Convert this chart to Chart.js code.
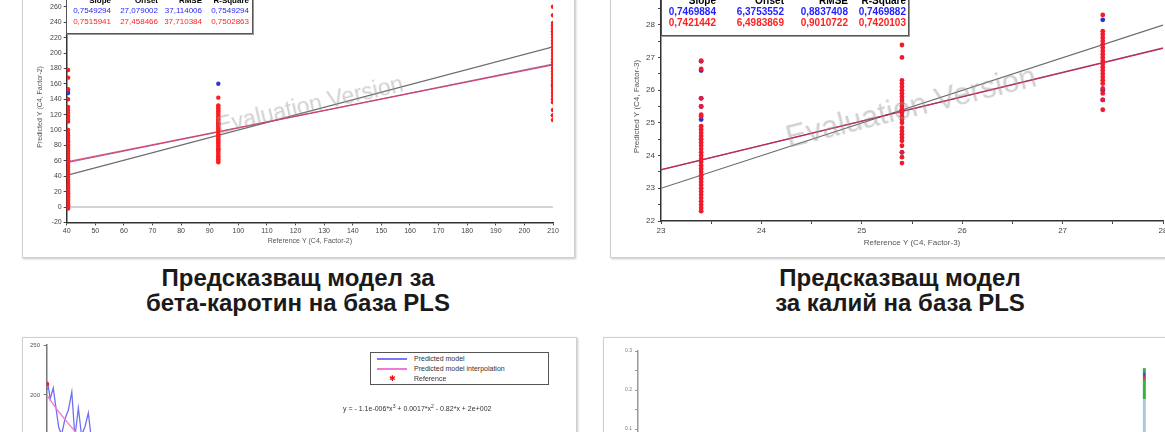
<!DOCTYPE html>
<html><head><meta charset="utf-8">
<script src="https://cdn.jsdelivr.net/npm/chart.js@4.4.1/dist/chart.umd.min.js"></script>
<style>
html,body{margin:0;padding:0;background:#fff;}
body{width:1165px;height:432px;overflow:hidden;position:relative;font-family:'Liberation Sans',Arial,sans-serif;}
.panel{position:absolute;border:1px solid #cfcfcf;box-shadow:1px 1px 2px rgba(0,0,0,0.22);background:#fff;}
canvas{position:absolute;}
.cap{position:absolute;width:440px;text-align:center;font-weight:bold;font-size:24px;line-height:25px;color:#1a1a1a;}
.wm{position:absolute;white-space:nowrap;color:rgba(150,150,150,0.45);transform-origin:center center;}
.stats{position:absolute;background:#fff;border:1px solid #555;box-shadow:1px 1px 0 #999;}
.stats table{position:absolute;left:0;border-collapse:collapse;table-layout:fixed;}
.stats td{padding:0;text-align:right;white-space:nowrap;overflow:visible;}
.leg{position:absolute;background:#fff;border:1px solid #555;font-size:7px;color:#333;}
.leg .row{position:absolute;left:0;height:10px;line-height:10px;width:100%;}
.leg .smp{position:absolute;left:6px;width:30px;top:4px;height:2px;}
.leg .txt{position:absolute;left:43px;top:0;}
.eq{position:absolute;font-size:7px;color:#333;white-space:nowrap;}
.eq sup{font-size:5px;}
</style>
</head><body>

<div class="panel" style="left:22px;top:-10px;width:551px;height:266px;"></div>
<div class="panel" style="left:610px;top:-10px;width:600px;height:266px;"></div>
<div class="panel" style="left:22px;top:337px;width:553px;height:200px;"></div>
<div class="panel" style="left:603px;top:337px;width:600px;height:200px;"></div>

<canvas id="c1" width="554" height="277" style="left:22px;top:-20px;width:554px;height:277px;"></canvas>
<canvas id="c2" width="600" height="277" style="left:610px;top:-20px;width:600px;height:277px;"></canvas>
<canvas id="c3" width="553" height="300" style="left:22px;top:337px;width:553px;height:300px;"></canvas>
<canvas id="c4" width="600" height="300" style="left:603px;top:337px;width:600px;height:300px;"></canvas>

<div class="wm" id="wm1" style="left:310px;top:105px;font-size:23px;transform:translate(-50%,-50%) rotate(-13deg);"></div>
<div class="wm" id="wm2" style="left:911px;top:107px;font-size:31px;transform:translate(-50%,-50%) rotate(-14deg);"></div>

<div class="stats" id="st1" style="left:66px;top:-8px;width:185px;height:40px;"></div>
<div class="stats" id="st2" style="left:661px;top:-8px;width:246px;height:42px;"></div>

<div class="leg" id="leg3" style="left:370px;top:352px;width:177px;height:31px;"></div>
<div class="eq" id="eq3" style="left:343px;top:403px;"></div>

<div class="cap" id="cap1" style="left:78px;top:265px;"></div>
<div class="cap" id="cap2" style="left:680px;top:265px;"></div>

<script>
// ---------- texts ----------
const caption1 = ['Предсказващ модел за', 'бета-каротин на база PLS'];
const caption2 = ['Предсказващ модел', 'за калий на база PLS'];
const watermarkText = 'Evaluation Version';
const statHeaders = ['Slope', 'Offset', 'RMSE', 'R-Square'];

// ---------- panel 1: beta-carotene (Factor-2) ----------
const bcXTitle = 'Reference Y (C4, Factor-2)';
const bcYTitle = 'Predicted Y (C4, Factor-2)';
const bcStatsBlue = ['0,7549294', '27,079002', '37,114006', '0,7549294'];
const bcStatsRed  = ['0,7515941', '27,458466', '37,710384', '0,7502863'];
const bcRefLevels = [40.5, 93, 210];
const bcRed1 = [-2,0,2,4,6,8,10,12,14,16,18,20,22,24,26,28,30,33,36,39,42,45,48,51,54,57,60,63,66,69,72,75,78,81,84,87,90,93,96,100,111,114,118,122,126,130,140,153,168,178];
const bcRed2 = [58,60,62,64,66,68,70,72,74,76,78,80,82,84,86,88,90,92,94,96,98,100,102,104,106,108,110,112,114,116,118,120,122,124,126,128,130,132,142];
const bcRed3 = [113,119,126,136,140,144,148,152,156,160,164,168,172,176,180,184,188,192,196,200,204,208,212,216,220,224,228,232,236,239,249,260];
const bcBlue1 = [2,18,60,85,148,152];
const bcBlue2 = [75,108,160];
const bcBlue3 = [119,158,228];
const bcLineX = [40, 210];
const bcIdeal = [41, 208];
const bcBlueFit = [57.5, 185.5];
const bcRedFit = [58.5, 184.5];
const bcZero = [0, 0];

// ---------- panel 2: potassium (Factor-3) ----------
const kXTitle = 'Reference Y (C4, Factor-3)';
const kYTitle = 'Predicted Y (C4, Factor-3)';
const kStatsBlue = ['0,7469884', '6,3753552', '0,8837408', '0,7469882'];
const kStatsRed  = ['0,7421442', '6,4983869', '0,9010722', '0,7420103'];
const kRefLevels = [23.4, 25.4, 27.4];
const kRed1 = [22.3,22.4,22.5,22.6,22.7,22.8,22.9,23.0,23.1,23.2,23.3,23.4,23.5,23.6,23.7,23.8,23.9,24.0,24.1,24.2,24.3,24.4,24.5,24.6,24.7,24.8,24.9,25.2,25.25,25.5,25.75,26.65,26.9];
const kRed2 = [23.77,23.95,24.1,24.3,24.45,24.55,24.65,24.75,24.85,25.0,25.1,25.2,25.3,25.4,25.5,25.6,25.7,25.8,25.9,26.0,26.1,26.2,26.3,27.0,27.38];
const kRed3 = [25.4,25.7,25.9,26.05,26.2,26.3,26.4,26.5,26.6,26.7,26.8,26.9,27.0,27.1,27.2,27.3,27.4,27.5,27.6,27.7,27.8,28.3];
const kBlue1 = [26.88,26.6,25.75,25.5,25.1];
const kBlue2 = [24.1,25.4];
const kBlue3 = [28.15,25.7,26.0];
const kLineX = [23, 28];
const kIdeal = [23.0, 27.99];
const kBlueFit = [23.56, 27.29];
const kRedFit = [23.57, 27.28];

// ---------- panel 3: spectrum model ----------
const spLegend = ['Predicted model', 'Predicted model interpolation', 'Reference'];
const spEquation = 'y = - 1.1e-006*x<sup>3</sup> + 0.0017*x<sup>2</sup> - 0.82*x + 2e+002';
const spModelX = [0, 3, 6, 11.5, 16, 21, 26, 32, 38, 44, 49.5, 55.5, 61, 67, 73, 79.5];
const spModelY = [205, 208, 196, 207, 188, 168, 160, 176, 185, 203, 158, 187, 160, 168, 182, 150];
const spInterpX = [0, 20, 40, 60, 80];
const spInterpY = [200, 184, 170, 157, 145];
const spRefX = [0];
const spRefY = [211];

// ---------- panel 4: colour bar ----------
const barX = 97;
const barSegments = [
  {from: 0.09, to: 0.177, color: '#a9c9dd', w: 3},
  {from: 0.177, to: 0.256, color: '#3cae46', w: 3},
  {from: 0.231, to: 0.245, color: '#3050e0', w: 2},
  {from: 0.226, to: 0.236, color: '#e03a3a', w: 2}
];

// ---------- html texts ----------
document.getElementById('cap1').innerHTML = caption1.join('<br>');
document.getElementById('cap2').innerHTML = caption2.join('<br>');
document.getElementById('wm1').textContent = watermarkText;
document.getElementById('wm2').textContent = watermarkText;

function buildStats(id, blue, red, colW, rowH, fs, top) {
  const box = document.getElementById(id);
  const t = document.createElement('table');
  t.style.top = top + 'px';
  t.style.width = colW.reduce((a, b) => a + b, 0) + 'px';
  const cg = document.createElement('colgroup');
  colW.forEach(w => { const c = document.createElement('col'); c.style.width = w + 'px'; cg.appendChild(c); });
  t.appendChild(cg);
  [[statHeaders, '#000'], [blue, '#1f1fff'], [red, '#ff1f1f']].forEach(([vals, col]) => {
    const tr = document.createElement('tr');
    vals.forEach(v => {
      const td = document.createElement('td');
      td.textContent = v;
      td.style.color = col;
      td.style.fontSize = fs + 'px';
      td.style.height = rowH + 'px';
      td.style.lineHeight = rowH + 'px';
      td.style.fontWeight = (col === '#000' || fs >= 10) ? 'bold' : 'normal';
      tr.appendChild(td);
    });
    t.appendChild(tr);
  });
  box.appendChild(t);
}
buildStats('st1', bcStatsBlue, bcStatsRed, [44, 47, 44, 47], 10.5, 8, 2.5);
buildStats('st2', kStatsBlue, kStatsRed, [54, 68, 64, 58], 11, 10, 2);

(function () {
  const leg = document.getElementById('leg3');
  const samples = [
    '<div class="smp" style="background-color:#7878f8"></div>',
    '<div class="smp" style="background-color:#f07ad6"></div>',
    '<div class="smp" style="background:none;top:0;height:10px;text-align:center;color:#f01010;font-size:8px;line-height:10px;">&#10033;</div>'
  ];
  spLegend.forEach((s, i) => {
    const r = document.createElement('div');
    r.className = 'row';
    r.style.top = (1 + i * 10) + 'px';
    r.innerHTML = samples[i] + '<div class="txt">' + s + '</div>';
    leg.appendChild(r);
  });
  document.getElementById('eq3').innerHTML = spEquation;
})();

// ---------- charts ----------
Chart.defaults.font.family = "'Liberation Sans', Arial, sans-serif";
Chart.defaults.animation = false;

const pts = (xs, cols) => cols.flatMap((col, i) => col.map(y => ({x: xs[i], y})));
const seg = (xs, ys) => xs.map((x, i) => ({x, y: ys[i]}));
const lineDs = (data, color, w, order) => ({type: 'line', data, borderColor: color, borderWidth: w, pointRadius: 0, fill: false, order});
const dotDs = (data, color, r, order) => ({type: 'scatter', data, backgroundColor: color, borderColor: color, borderWidth: 0, pointRadius: r, order});

function axisCommon(fs, tl, pad) {
  return {
    type: 'linear',
    grid: {drawOnChartArea: false, drawTicks: true, tickLength: tl, color: '#444'},
    border: {display: true, color: '#333', width: 1.5},
    ticks: {font: {size: fs}, color: '#444', padding: pad, autoSkip: false, maxRotation: 0}
  };
}
const baseOpts = (padding) => ({
  responsive: false, animation: false, devicePixelRatio: 1,
  layout: {autoPadding: false, padding},
  plugins: {legend: {display: false}, tooltip: {enabled: false}},
  events: []
});

// chart 1
(function () {
  const o = baseOpts({left: 4.7, right: 23, top: 11.4, bottom: 4.6});
  const x = axisCommon(7, 3, 1);
  Object.assign(x, {min: 40, max: 210, afterFit: s => { s.height = 30; }});
  x.ticks.stepSize = 10;
  x.title = {display: true, text: bcXTitle, font: {size: 7}, color: '#555', padding: {top: 0, bottom: 7.2}};
  const y = axisCommon(7, 3, 2);
  Object.assign(y, {min: -20, max: 280, afterFit: s => { s.width = 40; }});
  y.ticks.stepSize = 20;
  y.title = {display: true, text: bcYTitle, font: {size: 7}, color: '#555', padding: {top: 9.1, bottom: 0}};
  o.scales = {x, y};
  new Chart(document.getElementById('c1'), {
    type: 'scatter',
    data: {datasets: [
      dotDs(pts(bcRefLevels, [bcRed1, bcRed2, bcRed3]), '#ff1c1c', 2.2, 1),
      dotDs(pts(bcRefLevels, [bcBlue1, bcBlue2, bcBlue3]), '#3434d8', 2.2, 2),
      lineDs(seg(bcLineX, bcRedFit), 'rgba(225,50,90,0.85)', 1.2, 3),
      lineDs(seg(bcLineX, bcBlueFit), 'rgba(90,60,170,0.7)', 1.2, 4),
      lineDs(seg(bcLineX, bcIdeal), '#6e6e6e', 1.2, 5),
      lineDs(seg(bcLineX, bcZero), '#aaaaaa', 1, 6)
    ]},
    options: o
  });
})();

// chart 2
(function () {
  const o = baseOpts({left: 11, right: 47, top: 12, bottom: 6});
  const x = axisCommon(8, 3, 1.5);
  Object.assign(x, {min: 23, max: 28, afterFit: s => { s.height = 30; }});
  x.ticks.stepSize = 0.5;
  x.ticks.callback = v => Number.isInteger(v) ? String(v) : '';
  x.title = {display: true, text: kXTitle, font: {size: 8}, color: '#555', padding: {top: 0, bottom: 3.5}};
  const y = axisCommon(8, 3, 3);
  Object.assign(y, {min: 22, max: 29, afterFit: s => { s.width = 40; }});
  y.ticks.stepSize = 0.5;
  y.ticks.callback = v => Number.isInteger(v) ? String(v) : '';
  y.title = {display: true, text: kYTitle, font: {size: 8}, color: '#555', padding: {top: 11.2, bottom: 0}};
  o.scales = {x, y};
  new Chart(document.getElementById('c2'), {
    type: 'scatter',
    data: {datasets: [
      dotDs(pts(kRefLevels, [kRed1, kRed2, kRed3]), '#f01c2c', 2.4, 1),
      dotDs(pts(kRefLevels, [kBlue1, kBlue2, kBlue3]), '#3030c8', 2.4, 2),
      lineDs(seg(kLineX, kRedFit), 'rgba(200,30,70,0.9)', 1.3, 3),
      lineDs(seg(kLineX, kBlueFit), 'rgba(80,40,140,0.7)', 1.3, 4),
      lineDs(seg(kLineX, kIdeal), '#6a6a6a', 1.2, 5)
    ]},
    options: o
  });
})();

// chart 3
(function () {
  const o = baseOpts({left: 2.7, right: 15, top: 8, bottom: 42});
  const x = {type: 'linear', min: 0, max: 900, display: false};
  const y = axisCommon(6, 3, 3.7);
  Object.assign(y, {min: 0, max: 250, afterFit: s => { s.width = 22; }});
  y.ticks.stepSize = 50;
  y.ticks.color = '#555';
  y.border = {display: true, color: '#777', width: 1.5};
  y.grid.color = '#777';
  o.scales = {x, y};
  new Chart(document.getElementById('c3'), {
    type: 'scatter',
    data: {datasets: [
      dotDs(seg(spRefX, spRefY), '#ff2020', 2.5, 1),
      lineDs(seg(spInterpX, spInterpY), '#f27fd8', 1.3, 2),
      lineDs(seg(spModelX, spModelY), '#6f6ff2', 1.3, 3)
    ]},
    options: o
  });
})();

// chart 4
(function () {
  const o = baseOpts({left: 13, right: 43, top: 14, bottom: 169});
  const x = {type: 'linear', min: 0, max: 100, display: false};
  const y = axisCommon(5, 3, 3);
  Object.assign(y, {min: 0, max: 0.3, afterFit: s => { s.width = 22; }});
  y.ticks.stepSize = 0.05;
  y.ticks.color = '#777';
  y.ticks.callback = v => (Math.abs(v * 10 - Math.round(v * 10)) < 1e-6) ? v.toFixed(1) : '';
  y.border = {display: true, color: '#999', width: 1.5};
  y.grid.color = '#999';
  o.scales = {x, y};
  new Chart(document.getElementById('c4'), {
    type: 'scatter',
    data: {datasets: barSegments.map((s, i) => lineDs([{x: barX, y: s.from}, {x: barX, y: s.to}], s.color, s.w, 10 - i))},
    options: o
  });
})();
</script>
</body></html>
